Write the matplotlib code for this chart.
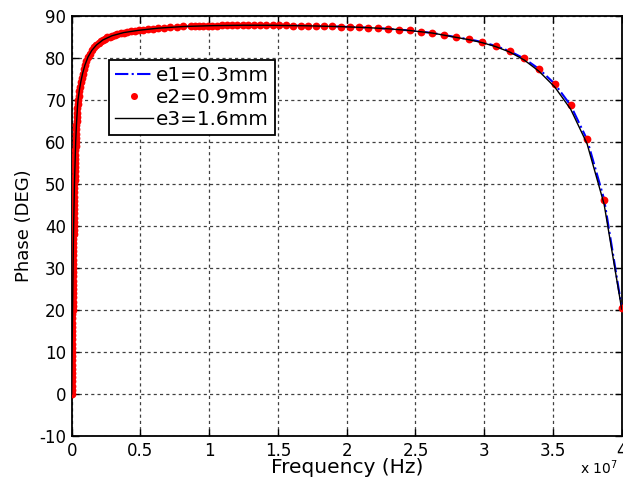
import matplotlib
matplotlib.use("Agg")
import matplotlib.pyplot as plt

plt.rcParams['font.family'] = ['DejaVu Sans']
plt.rcParams['axes.unicode_minus'] = False

# Frequencies in units of 1e7 Hz
freq_e2 = [0.0, 0.00029, 0.00058, 0.00088, 0.00117, 0.00146, 0.00176, 0.00205, 0.00235,
           0.00264, 0.00294, 0.00325, 0.00355, 0.00386, 0.00416, 0.00447, 0.00479, 0.00511,
           0.00543, 0.00575, 0.00608, 0.00641, 0.00675, 0.00709, 0.00744, 0.00779, 0.00814,
           0.00851, 0.00888, 0.00926, 0.00964, 0.01003, 0.01044, 0.01085, 0.01126, 0.01169,
           0.01213, 0.01258, 0.01305, 0.01352, 0.01401, 0.01452, 0.01504, 0.01557, 0.01613,
           0.0167, 0.01729, 0.01791, 0.01855, 0.01921, 0.01990, 0.02062, 0.02137, 0.02216,
           0.02299, 0.02385, 0.02476, 0.02572, 0.02673, 0.02779, 0.02893, 0.03013, 0.03141,
           0.03278, 0.03424, 0.03581, 0.03751, 0.03934, 0.04133, 0.04350, 0.04588,
           0.050, 0.055, 0.060, 0.066, 0.072, 0.079, 0.087, 0.096, 0.106, 0.118, 0.131, 0.146,
           0.162, 0.180, 0.200, 0.213, 0.227, 0.242, 0.258, 0.275, 0.293, 0.312, 0.333, 0.355,
           0.378, 0.403, 0.430, 0.458, 0.488, 0.520, 0.555, 0.591, 0.630, 0.672, 0.716, 0.763,
           0.813, 0.867, 0.898, 0.928, 0.958, 0.990, 1.023, 1.056, 1.091, 1.127, 1.164, 1.203,
           1.243, 1.284, 1.326, 1.370, 1.415, 1.462, 1.510, 1.560, 1.611, 1.664, 1.719, 1.776,
           1.835, 1.895, 1.958, 2.022, 2.089, 2.158, 2.229, 2.303, 2.379, 2.457, 2.538, 2.622,
           2.709, 2.798, 2.891, 2.986, 3.085, 3.187, 3.292, 3.400, 3.513, 3.629, 3.748, 3.872,
           4.000]
phase_e2 = [0, 1, 2, 3, 4, 5, 6, 7, 8,
            9, 10, 11, 12, 13, 14, 15, 16, 17,
            18, 19, 20, 21, 22, 23, 24, 25, 26,
            27, 28, 29, 30, 31, 32, 33, 34, 35,
            36, 37, 38, 39, 40, 41, 42, 43, 44,
            45, 46, 47, 48, 49, 50, 51, 52, 53,
            54, 55, 56, 57, 58, 59, 60, 61, 62,
            63, 64, 65, 66, 67, 68, 69, 70,
            71.0, 72.2, 73.2, 74.3, 75.3, 76.3, 77.3, 78.3, 79.3, 80.2, 81.0, 81.8,
            82.5, 83.1, 83.6, 84.0, 84.3, 84.6, 84.9, 85.1, 85.3, 85.5, 85.7, 85.9,
            86.05, 86.2, 86.35, 86.5, 86.6, 86.75, 86.9, 87.0, 87.1, 87.2, 87.3, 87.4,
            87.5, 87.55, 87.6, 87.62, 87.65, 87.68, 87.7, 87.72, 87.74, 87.76, 87.78, 87.79,
            87.8, 87.8, 87.8, 87.8, 87.79, 87.78, 87.76, 87.74, 87.72, 87.69, 87.66, 87.62,
            87.57, 87.52, 87.47, 87.41, 87.33, 87.22, 87.1, 86.95, 86.77, 86.55, 86.3, 85.95,
            85.5, 84.95, 84.45, 83.8, 82.9, 81.65, 79.9, 77.4, 73.9, 68.7, 60.6, 46.3,
            20.4]

freq_line = [0, 0.0029, 0.0061, 0.0096, 0.014, 0.0199, 0.0289, 0.0342, 0.0413, 0.0459,
             0.055, 0.066, 0.079, 0.096, 0.118, 0.146, 0.180, 0.227, 0.293, 0.378, 0.488,
             0.630, 0.813, 1.023, 1.243, 1.462, 1.719, 1.958, 2.158, 2.303, 2.457, 2.622,
             2.798, 2.891, 2.986, 3.085, 3.187, 3.292, 3.400, 3.513, 3.629, 3.748, 3.872, 4.000]
phase_e1 = [0, 10, 20, 30, 40, 50, 60, 64, 68, 70,
            72.2, 74.3, 76.3, 78.3, 80.2, 81.8, 83.1, 84.3, 85.3, 86.05, 86.6,
            87.1, 87.5, 87.7, 87.8, 87.78, 87.66, 87.47, 87.22, 86.95, 86.56, 85.97,
            84.95, 84.45, 83.8, 82.85, 81.6, 79.85, 77.35, 73.85, 68.7, 60.6, 46.4, 20.6]
phase_e3 = [0, 10, 20, 30, 40, 50, 60, 64, 68, 70,
            72.2, 74.3, 76.3, 78.3, 80.2, 81.8, 83.1, 84.3, 85.3, 86.05, 86.6,
            87.1, 87.5, 87.7, 87.8, 87.78, 87.66, 87.47, 87.22, 86.95, 86.55, 85.95,
            84.9, 84.35, 83.65, 82.7, 81.4, 79.5, 76.8, 73.1, 67.8, 59.6, 45.2, 20.2]

labels = ['e1=0.3mm', 'e2=0.9mm', 'e3=1.6mm']
xticks = [0, 0.5, 1, 1.5, 2, 2.5, 3, 3.5, 4]
xticklabels = ['0', '0.5', '1', '1.5', '2', '2.5', '3', '3.5', '4']
yticks = list(range(-10, 91, 10))

fig = plt.figure(figsize=(6.23, 4.79), dpi=100)
ax = fig.add_axes([0.1151, 0.0898, 0.8828, 0.8768])

ax.plot(freq_line, phase_e1, linestyle='-.', color='#0000ff', linewidth=1.5,
        label=labels[0], zorder=3)
ax.plot(freq_e2, phase_e2, linestyle='none', marker='o', markersize=5.6,
        color='#ff0000', markeredgewidth=0, label=labels[1], zorder=4)
ax.plot(freq_line, phase_e3, linestyle='-', color='black', linewidth=1.0,
        label=labels[2], zorder=5)

ax.set_xlim(0, 4)
ax.set_ylim(-10, 90)
ax.set_xticks(xticks)
ax.set_xticklabels(xticklabels)
ax.set_yticks(yticks)
ax.tick_params(direction='in', length=5, width=1, top=True, right=True,
               labelsize=12, pad=4, colors='black')
ax.grid(True, color='0.25', linestyle=(0, (2.5, 2.5)), linewidth=0.9)
ax.set_axisbelow(True)
for s in ax.spines.values():
    s.set_linewidth(1.3)

ax.set_xlabel('Frequency (Hz)', fontsize=14.5, labelpad=-1)
ax.set_ylabel('Phase (DEG)', fontsize=13, labelpad=4.5)

h, l = ax.get_legend_handles_labels()
order = [l.index(x) for x in labels]
leg = ax.legend([h[i] for i in order], [l[i] for i in order],
                loc='upper left', bbox_to_anchor=(0.068, 0.895),
                borderaxespad=0, fontsize=14.4, frameon=True, fancybox=False,
                framealpha=1, edgecolor='black', handlelength=1.9,
                handletextpad=0.15, labelspacing=0.15, borderpad=0.3, numpoints=1,
                markerscale=0.9)
leg.get_frame().set_linewidth(1.3)

fig.text(580 / 623, 1 - 477 / 479, 'x 10$^{7}$', ha='left', va='bottom', fontsize=10)

fig.savefig('out.png', dpi=100)
